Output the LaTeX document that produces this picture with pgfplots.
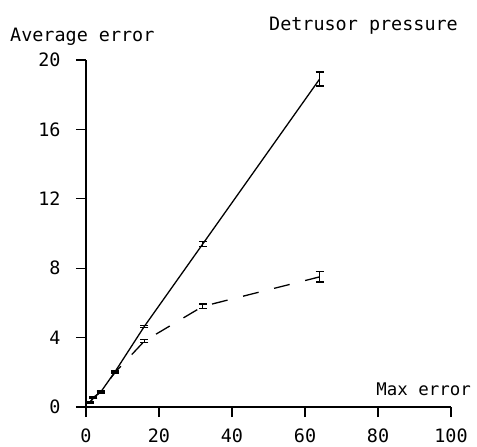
\documentclass[border=0pt]{standalone}
\usepackage{fontspec}
\setmainfont{DejaVu Sans Mono}
\usepackage{pgfplots}
\pgfplotsset{compat=1.18}
\usetikzlibrary{calc}
\begin{document}
\begin{tikzpicture}
\begin{axis}[
  name=ax,
  scale only axis,
  width=365bp, height=347bp,
  xmin=0, xmax=100, ymin=0, ymax=20,
  axis x line=bottom, axis y line=left,
  axis line style={-, line width=1.3pt},
  xtick={0,20,...,100}, ytick={0,4,...,20},
  tick align=outside,
  major tick length=10bp,
  tick style={line width=1.3pt, black},
  /pgf/number format/assume math mode=true,
  ticklabel style={font=\fontsize{18.5}{20}\selectfont},
  yticklabel style={xshift=-12bp},
  xticklabel style={yshift=-8bp},
  clip=false,
]
\addplot[black, line width=1.3pt, mark=none,
  error bars/.cd, y dir=both, y explicit,
  error bar style={line width=1.3pt}, error mark options={rotate=90, mark size=4bp, line width=1.3pt}]
  table[x=x, y=y, y error=e] {
x y e
1 0.25 0.03
2 0.55 0.03
4 0.85 0.04
8 2.05 0.06
16 4.65 0.06
32 9.4 0.13
64 18.9 0.4
};
\addplot[black, line width=1.3pt, mark=none, dash pattern=on 16bp off 16bp,
  error bars/.cd, y dir=both, y explicit,
  error bar style={line width=1.3pt, solid}, error mark options={rotate=90, mark size=4bp, line width=1.3pt, solid}]
  table[x=x, y=y, y error=e] {
x y e
1 0.25 0.03
2 0.5 0.03
4 0.9 0.04
8 2.0 0.06
16 3.8 0.1
32 5.8 0.13
64 7.5 0.3
};
\end{axis}
\path[use as bounding box] ($(ax.south west)+(-86bp,-40bp)$) rectangle ($(ax.south west)+(391bp,407bp)$);
\node[anchor=base west, inner sep=0pt, font=\fontsize{18.5}{20}\selectfont] at ($(ax.south west)+(-76bp,365bp)$) {Average error};
\node[anchor=base east, inner sep=0pt, font=\fontsize{18.5}{20}\selectfont] at ($(ax.south west)+(372bp,376bp)$) {Detrusor pressure};
\node[anchor=base east, inner sep=0pt, font=\fontsize{17.5}{20}\selectfont] at ($(ax.south west)+(385bp,12bp)$) {Max error};
\end{tikzpicture}
\end{document}
